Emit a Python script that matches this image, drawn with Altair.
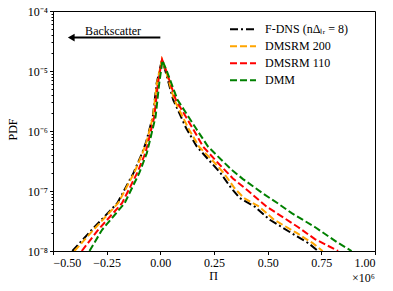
import altair as alt
import pandas as pd

# ---- data ----
series_names = ["F-DNS (nΔₗᵣ = 8)", "DMSRM 200", "DMSRM 110", "DMM"]
series_colors = ["#000000", "#FFA500", "#FF0000", "#008000"]

fdns_x = [-0.41, -0.32, -0.20, -0.125, -0.085, -0.066, -0.035, -0.017, 0.008, 0.022, 0.06,
          0.12, 0.17, 0.23, 0.28, 0.33, 0.37, 0.44, 0.51, 0.61, 0.69, 0.735]
fdns_y = [1.0e-8, 2.24e-8, 6.3e-8, 2.0e-7, 4.27e-7, 6.6e-7, 1.74e-6, 6.3e-6, 1.55e-5, 1.05e-5, 3.31e-6,
          1.12e-6, 5.5e-7, 3.16e-7, 2.0e-7, 1.12e-7, 7.6e-8, 5.5e-8, 3.31e-8, 2.0e-8, 1.35e-8, 1.0e-8]

d200_x = [-0.40, -0.312, -0.196, -0.122, -0.083, -0.064, -0.034, -0.016, 0.008, 0.024, 0.065,
          0.13, 0.18, 0.245, 0.295, 0.345, 0.39, 0.46, 0.53, 0.635, 0.71, 0.756]
d200_y = [1.0e-8, 2.24e-8, 6.3e-8, 2.0e-7, 4.27e-7, 6.6e-7, 1.74e-6, 6.3e-6, 1.55e-5, 1.05e-5, 3.31e-6,
          1.12e-6, 5.5e-7, 3.16e-7, 2.0e-7, 1.12e-7, 7.6e-8, 5.5e-8, 3.31e-8, 2.0e-8, 1.35e-8, 1.0e-8]

d110_x = [-0.366, -0.29, -0.178, -0.108, -0.07, -0.056, -0.028, -0.011, 0.008,
          0.026, 0.072, 0.15, 0.199, 0.26, 0.338, 0.41, 0.495, 0.641, 0.72, 0.828]
d110_y = [1.0e-8, 2.24e-8, 6.3e-8, 2.0e-7, 4.27e-7, 6.6e-7, 1.74e-6, 6.3e-6, 1.55e-5,
          1.05e-5, 3.31e-6, 1.12e-6, 5.5e-7, 3.16e-7, 1.62e-7, 1.0e-7, 5.5e-8, 2.51e-8, 1.58e-8, 1.0e-8]

dmm_x = [-0.33, -0.272, -0.166, -0.098, -0.063, -0.05, -0.022, -0.005, 0.01,
         0.03, 0.08, 0.165, 0.222, 0.29, 0.333, 0.385, 0.478, 0.545, 0.612, 0.72, 0.822, 0.891]
dmm_y = [1.0e-8, 2.24e-8, 6.3e-8, 2.0e-7, 4.27e-7, 6.6e-7, 1.74e-6, 6.3e-6, 1.5e-5,
         1.0e-5, 3.31e-6, 1.12e-6, 5.5e-7, 3.16e-7, 2.24e-7, 1.58e-7, 9.1e-8, 6.3e-8, 4.27e-8, 2.51e-8, 1.41e-8, 1.0e-8]

x_ticks = [-0.5, -0.25, 0.0, 0.25, 0.5, 0.75, 1.0]
y_major = [1e-8, 1e-7, 1e-6, 1e-5, 1e-4]
y_minor_mult = [2, 3, 4, 5, 6, 7, 8, 9]

arrow_tail = 0.0
arrow_tip = -0.435
arrow_y = 3.6e-5
label_text = "Backscatter"
label_x = -0.22
label_y = 4.0e-5

# ---- build tables ----
rows = []
for name, xs, ys in zip(series_names, [fdns_x, d200_x, d110_x, dmm_x], [fdns_y, d200_y, d110_y, dmm_y]):
    for i, (a, b) in enumerate(zip(xs, ys)):
        rows.append({"series": name, "x": a, "y": b, "i": i})
df = pd.DataFrame(rows)

y_values = []
for m in y_major[:-1]:
    y_values.append(m)
    for k in y_minor_mult:
        y_values.append(k * m)
y_values.append(y_major[-1])

FONT = "Liberation Serif"
is_minor = "abs(log(datum.value)/LN10 - round(log(datum.value)/LN10)) > 0.01"
sup = "['\u207b\u2078','\u207b\u2077','\u207b\u2076','\u207b\u2075','\u207b\u2074'][round(log(datum.value)/LN10)+8]"

xscale = alt.Scale(domain=[-0.5, 1.0], nice=False, zero=False)
yscale = alt.Scale(type="log", domain=[1e-8, 1e-4], nice=False)

lines = alt.Chart(df).mark_line(strokeWidth=2, clip=True).encode(
    x=alt.X("x:Q", scale=xscale,
            axis=alt.Axis(values=x_ticks, format=".2f", title="Π", grid=False,
                          tickSize=3.5, labelPadding=3, titleX=160, titleY=24,
                          titleBaseline="middle")),
    y=alt.Y("y:Q", scale=yscale,
            axis=alt.Axis(values=y_values, grid=False, title="PDF",
                          labelExpr=f"{is_minor} ? '' : '10' + {sup}",
                          tickSize={"condition": {"test": is_minor, "value": 2}, "value": 3.5},
                          labelPadding=2, titleX=-41, titleY=118, titleAngle=270,
                          titleBaseline="middle", titleAlign="center")),
    color=alt.Color("series:N", scale=alt.Scale(domain=series_names, range=series_colors),
                    sort=series_names,
                    legend=alt.Legend(title=None, orient="none", legendX=176, legendY=10,
                                      padding=0, clipHeight=16.5,
                                      symbolType="stroke", symbolSize=676, symbolStrokeWidth=2,
                                      labelFontSize=12, labelFont=FONT, rowPadding=0,
                                      labelOffset=8)),
    strokeDash=alt.StrokeDash("series:N",
                              scale=alt.Scale(domain=series_names,
                                              range=[[8, 3, 2, 3], [7, 3], [7, 3], [7, 3]]),
                              sort=series_names, legend=None),
    detail="series:N",
    order="i:Q",
)

arrow_df = pd.DataFrame({"x": [arrow_tail], "x2": [arrow_tip + 0.02], "y": [arrow_y]})
arrow_line = alt.Chart(arrow_df).mark_rule(strokeWidth=2, color="black").encode(
    x="x:Q", x2="x2:Q", y="y:Q")
head_df = pd.DataFrame({"x": [arrow_tip + 0.02], "y": [arrow_y]})
arrow_head = alt.Chart(head_df).mark_point(shape="triangle-left", filled=True, size=60,
                                           color="black", opacity=1).encode(x="x:Q", y="y:Q")
text_df = pd.DataFrame({"x": [label_x], "y": [label_y], "t": [label_text]})
label = alt.Chart(text_df).mark_text(font=FONT, fontSize=12, baseline="alphabetic",
                                     align="center", color="black").encode(
    x="x:Q", y="y:Q", text="t:N")

off_df = pd.DataFrame({"x": [1.0], "y": [1e-8], "t": ["×10⁶"]})
offset_text = alt.Chart(off_df).mark_text(font=FONT, fontSize=12, align="right",
                                          baseline="middle", dy=27, color="black").encode(
    x="x:Q", y="y:Q", text="t:N")

chart = alt.layer(lines, arrow_line, arrow_head, label, offset_text).properties(
    width=322, height=240,
    autosize=alt.AutoSizeParams(type="none"),
    padding={"left": 45, "top": 3, "right": 10, "bottom": 32},
).configure_view(stroke="black", strokeWidth=1).configure_axis(
    domainColor="black", tickColor="black", labelColor="black", titleColor="black",
    labelFont=FONT, titleFont=FONT, labelFontSize=12, titleFontSize=12,
    titleFontWeight="normal", domainWidth=1, tickWidth=1,
)

chart.save("out.html", embed_options={"renderer": "svg", "actions": False})
